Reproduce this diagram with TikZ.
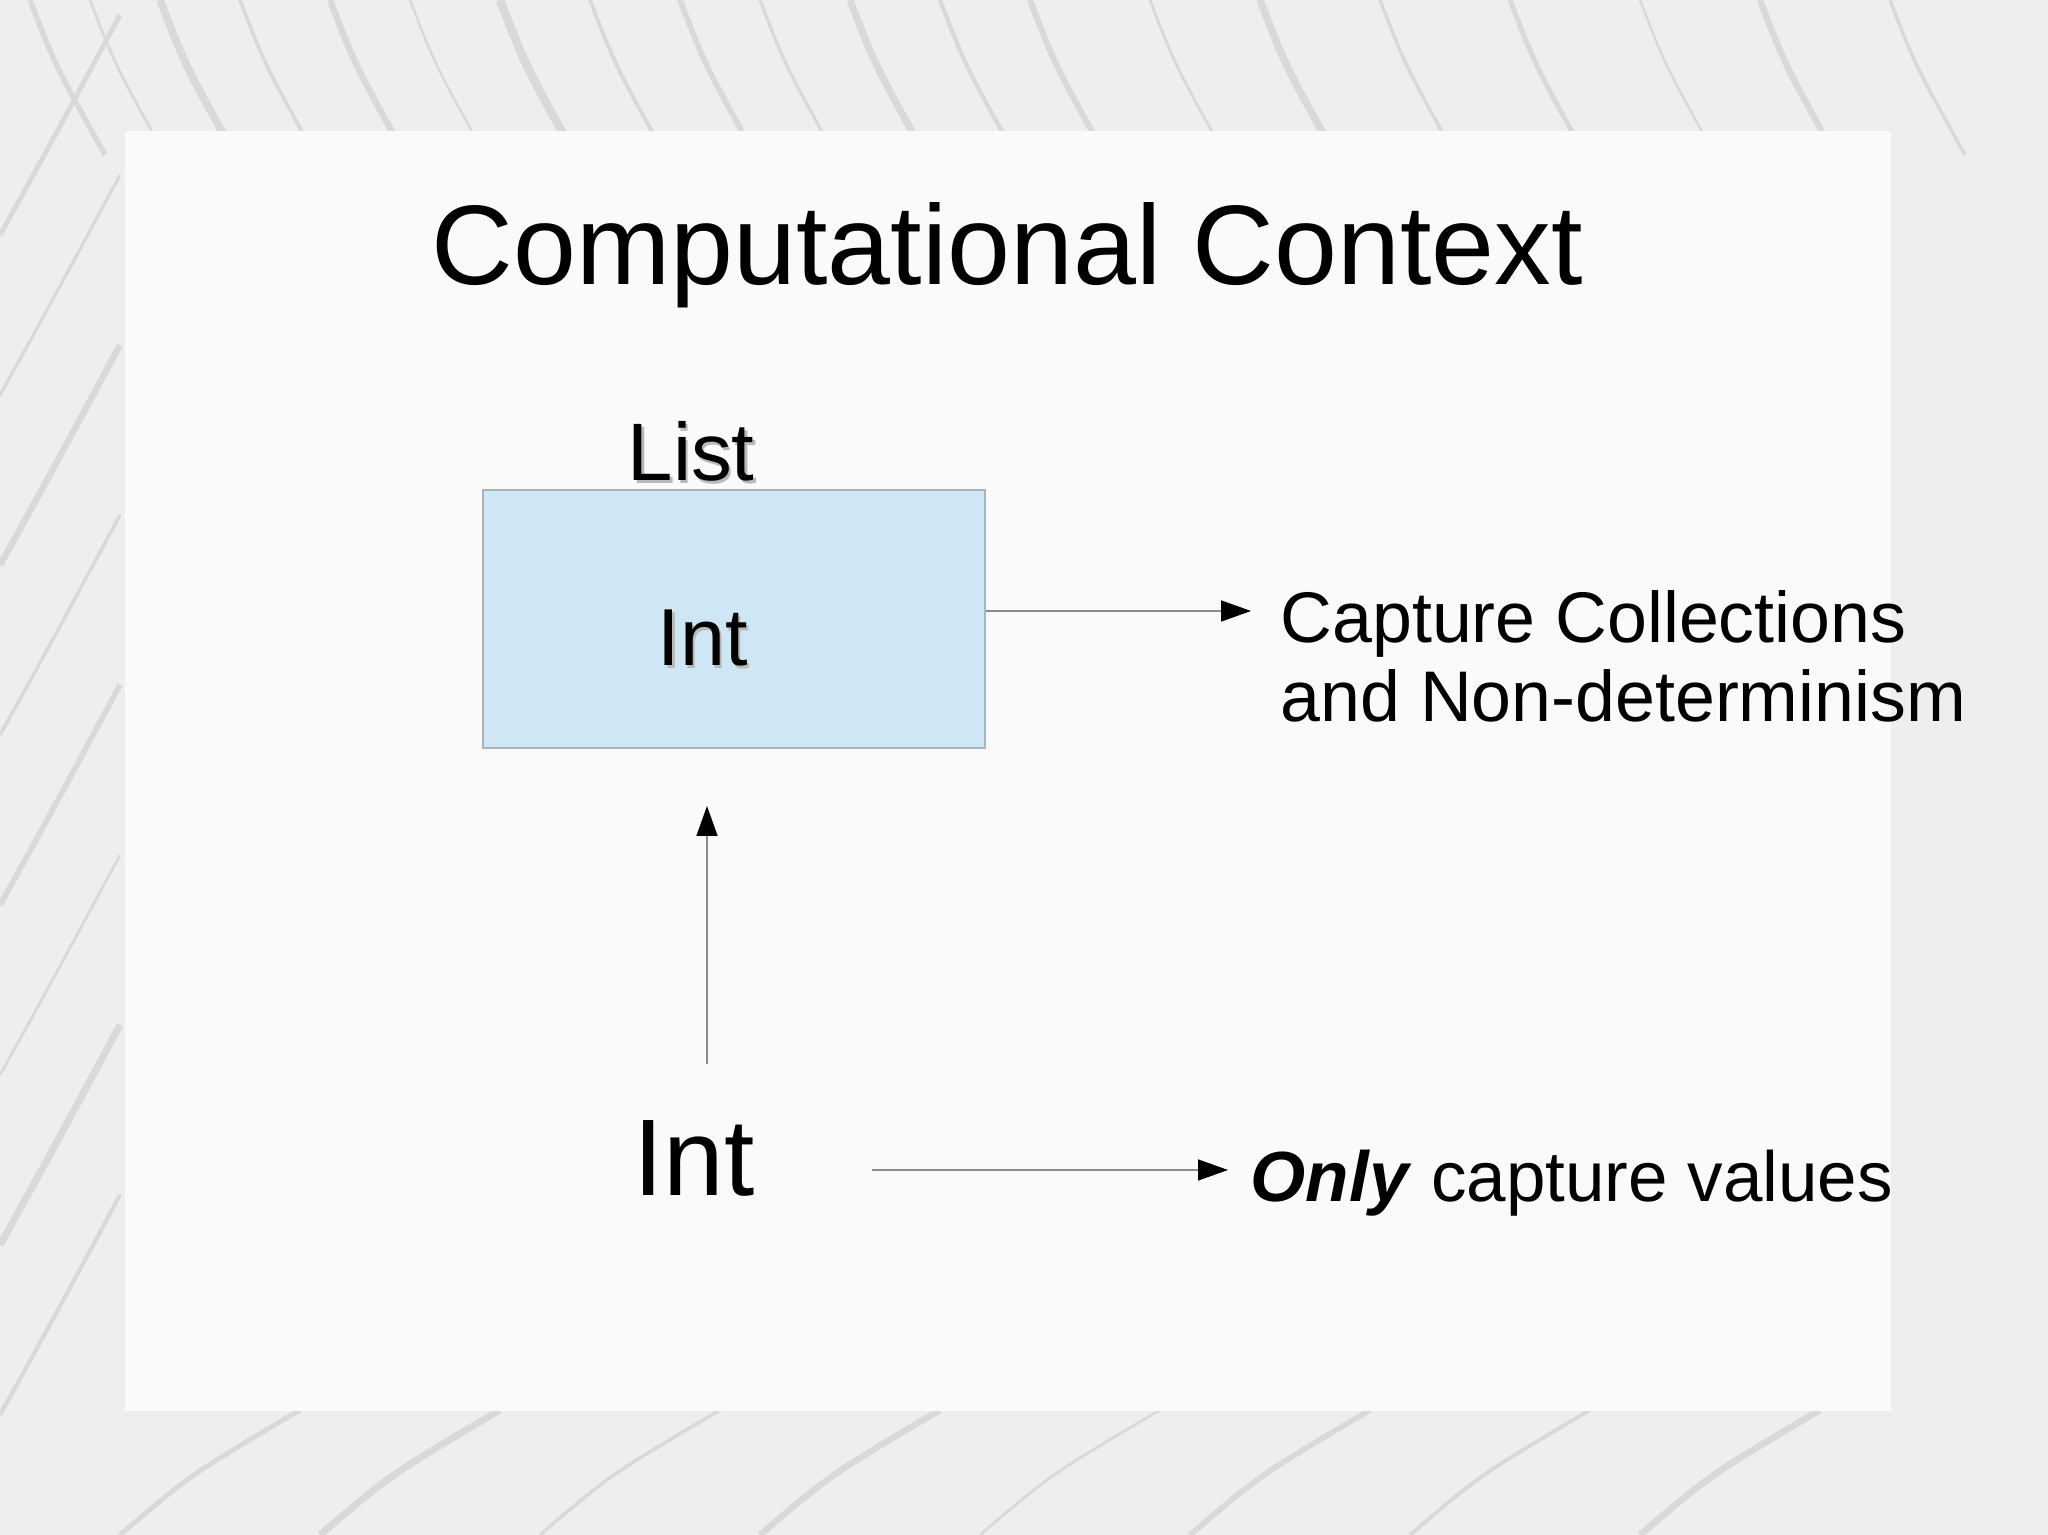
\documentclass[tikz,border=0pt]{standalone}
\usepackage{fontspec}
\setmainfont{Liberation Sans}
\usetikzlibrary{arrows.meta,positioning}
\definecolor{boxblue}{HTML}{CFE6F5}
\definecolor{boxline}{HTML}{A9B4BF}
\definecolor{panel}{HTML}{FAFAFB}
\definecolor{outer}{HTML}{EEEEEF}
\definecolor{streak}{HTML}{D9D9DB}
\tikzset{
	txt/.style={inner sep=0pt,anchor=base west},
	shade/.style={txt,text=gray!55},
	conn/.style={draw=gray!90,line width=0.45pt,-{Triangle[length=0.3cm,width=0.21cm,color=black]}}
}

\begin{document}
\begin{tikzpicture}
	\useasboundingbox (0,0) rectangle (20.48,15.35);
	% background
	\fill[outer] (0,0) rectangle (20.48,15.35);
	\foreach \x/\w in {0.3/1.5,0.9/0.8,1.6/2.2,2.4/1.0,3.3/1.8,4.1/0.7,5.0/2.4,5.9/1.1,6.8/1.6,7.6/0.9,8.5/2.0,9.4/1.2,10.3/1.7,11.5/0.8,12.6/2.1,13.8/1.0,15.1/1.4,16.4/0.7,17.6/1.8,18.9/1.0}
		\draw[streak,line width=\w pt] (\x,15.35) .. controls (\x+0.25,14.7) .. (\x+0.75,13.8);
	\foreach \y/\w in {1.2/1.2,2.9/2.0,4.6/0.8,6.3/1.6,8.0/1.0,9.7/1.8,11.4/0.9,13.0/1.4}
		\draw[streak,line width=\w pt] (0,\y) .. controls (0.5,\y+0.9) .. (1.2,\y+2.2);
	\foreach \x/\w in {1.2/1.4,3.2/2.0,5.4/1.0,7.6/1.8,9.8/0.8,11.9/1.6,14.1/1.1,16.4/1.9}
		\draw[streak,line width=\w pt] (\x,0) .. controls (\x+0.7,0.6) .. (\x+1.8,1.25);
	\fill[panel] (1.25,1.24) rectangle (18.91,14.04);
	% title
	\node[txt] (title) at (4.31,12.50) {\fontsize{32.2}{38}\selectfont Computational Context};
	% list box
	\node[draw=boxline,fill=boxblue,line width=0.4pt,minimum width=5.02cm,minimum height=2.58cm] (box) at (7.34,9.16) {};
	\node[shade] (listsh) at (6.295,10.515) {\fontsize{23.2}{28}\selectfont List};
	\node[txt] (list) at (6.27,10.54) {\fontsize{23.2}{28}\selectfont List};
	\node[shade] (intsh) at (6.595,8.665) {\fontsize{23}{28}\selectfont Int};
	\node[txt] (int) at (6.57,8.69) {\fontsize{23}{28}\selectfont Int};
	% right texts
	\node[txt] (cap1) at (12.80,8.92) {\fontsize{20.4}{24}\selectfont Capture Collections};
	\node[txt] (cap2) at (12.80,8.13) {\fontsize{20.4}{24}\selectfont and Non-determinism};
	\node[txt] (bint) at (6.33,3.39) {\fontsize{31}{37}\selectfont Int};
	\node[txt] (only) at (12.50,3.33) {\fontsize{20.2}{24}\selectfont\textbf{\textit{Only}} capture values};
	% arrows
	\coordinate (capend) at (12.51,9.24);
	\coordinate (upfoot) at (7.07,4.71);
	\coordinate (uphead) at (7.07,7.29);
	\coordinate (lowfoot) at (8.72,3.65);
	\coordinate (lowend) at (12.28,3.65);
	\draw[conn] (box.east |- capend) -- (capend);
	\draw[conn] (upfoot) -- (uphead);
	\draw[conn] (lowfoot) -- (lowend);
\end{tikzpicture}
\end{document}
